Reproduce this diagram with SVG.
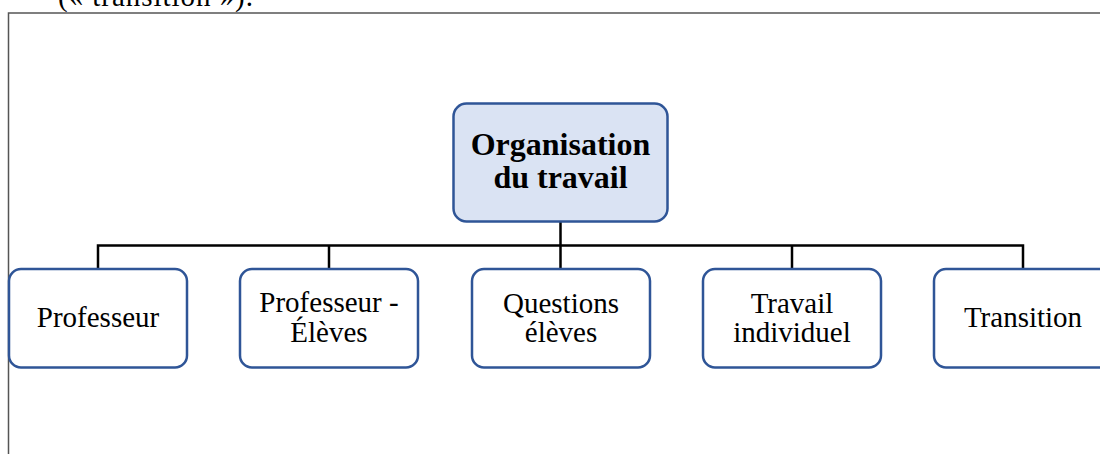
<svg xmlns="http://www.w3.org/2000/svg" width="1100" height="454" viewBox="0 0 1100 454">
<style>
.frame{fill:none;stroke:#555;stroke-width:1.5}
.box{fill:#fff;stroke:#2f5597;stroke-width:2.5}
.root{fill:#dae3f3;stroke:#2f5597;stroke-width:2.5}
.conn{fill:none;stroke:#000;stroke-width:2.5}
.t{font-family:"Liberation Serif","Times New Roman",serif;font-size:29px;fill:#000;text-anchor:middle}
.b{font-family:"Liberation Serif","Times New Roman",serif;font-size:32px;font-weight:bold;fill:#000;text-anchor:middle}
.top{font-family:"Liberation Serif","Times New Roman",serif;font-size:29px;fill:#000}
</style>
<rect width="1100" height="454" fill="#fff"/>
<text class="top" x="58" y="6" textLength="195" lengthAdjust="spacing">(« transition »).</text>
<path class="frame" d="M8.5,454 V13 H1100"/>
<g id="connectors">
<path class="conn" d="M560.5,222 V268"/>
<path class="conn" d="M98,269 V245.5 H1023 V269"/>
<path class="conn" d="M329,245.5 V269"/>
<path class="conn" d="M792,245.5 V269"/>
</g>
<g id="root">
<rect class="root" x="453.5" y="103.5" width="214" height="118" rx="13"/>
<text class="b" x="560.5" y="155">Organisation</text>
<text class="b" x="560.5" y="188">du travail</text>
</g>
<g id="n1">
<rect class="box" x="9" y="269" width="178" height="98.5" rx="12"/>
<text class="t" x="98" y="327">Professeur</text>
</g>
<g id="n2">
<rect class="box" x="240" y="269" width="178" height="98.5" rx="12"/>
<text class="t" x="329" y="312">Professeur -</text>
<text class="t" x="329" y="342">Élèves</text>
</g>
<g id="n3">
<rect class="box" x="472" y="269" width="178" height="98.5" rx="12"/>
<text class="t" x="561" y="313">Questions</text>
<text class="t" x="561" y="342">élèves</text>
</g>
<g id="n4">
<rect class="box" x="703" y="269" width="178" height="98.5" rx="12"/>
<text class="t" x="792" y="313">Travail</text>
<text class="t" x="792" y="342">individuel</text>
</g>
<g id="n5">
<rect class="box" x="934" y="269" width="178" height="98.5" rx="12"/>
<text class="t" x="1023" y="327">Transition</text>
</g>
</svg>
